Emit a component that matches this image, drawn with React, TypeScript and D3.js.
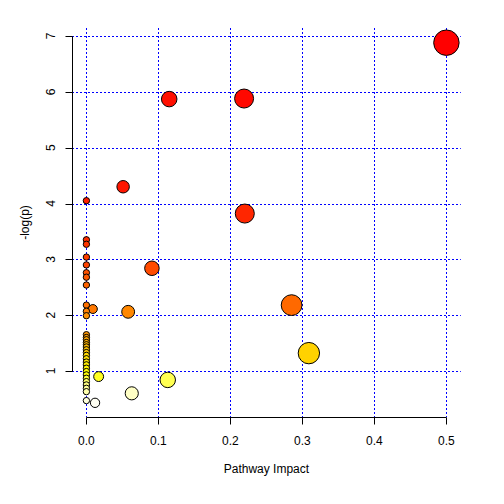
import React, { useEffect, useRef } from "react";
import * as d3 from "d3";

// Pathway impact (x) and -log(p) (y)
const impact = [
  0.5, 0.219, 0.115, 0.051, 0.22, 0.091, 0.285, 0.058, 0.009, 0.309, 0.113, 0.063, 0.017, 0.012,
  0, 0, 0, 0, 0, 0, 0, 0, 0, 0, 0,
  0, 0, 0, 0, 0, 0, 0, 0, 0, 0, 0, 0, 0, 0, 0, 0, 0, 0, 0, 0, 0,
];
const logP = [
  6.88, 5.88, 5.87, 4.3, 3.82, 2.84, 2.18, 2.06, 2.11, 1.32, 0.84, 0.6, 0.9, 0.43,
  4.05, 3.35, 3.27, 3.04, 2.9, 2.76, 2.68, 2.54, 2.18, 2.07, 1.99,
  1.65, 1.6, 1.56, 1.51, 1.47, 1.43, 1.38, 1.33, 1.28, 1.22, 1.16, 1.11, 1.05, 0.99, 0.93,
  0.87, 0.81, 0.75, 0.69, 0.63, 0.47,
];
const xTicks = [0, 0.1, 0.2, 0.3, 0.4, 0.5];
const yTicks = [1, 2, 3, 4, 5, 6, 7];

// R's heat.colors(n)
function heatColors(n: number): string[] {
  const j = Math.floor(n / 4);
  const i = n - j;
  const out: string[] = [];
  for (let k = 0; k < i; k++) {
    const h = i > 1 ? (k / (i - 1)) * (1 / 6) : 0;
    out.push(d3.rgb(255, Math.round(h * 6 * 255), 0).formatHex());
  }
  for (let k = 0; k < j; k++) {
    const from = 1 - 1 / (2 * j), to = 1 / (2 * j);
    const s = j > 1 ? from + ((to - from) * k) / (j - 1) : from;
    out.push(d3.rgb(255, 255, Math.round((1 - s) * 255)).formatHex());
  }
  return out;
}

const App = () => {
  const ref = useRef<SVGSVGElement>(null);

  useEffect(() => {
    const svg = d3.select(ref.current);
    svg.selectAll("*").remove();

    const left = 72, right = 460.8, top = 28, bottom = 417;
    const x = d3.scaleLinear().domain([-0.02, 0.52]).range([left, right]);
    const y = d3.scaleLinear().domain([1, 7]).range([371, 36]);
    const font = "Liberation Sans, Arial, sans-serif";
    const snap = (v: number) => Math.round(v) + 0.5;

    // grid
    const grid = svg.append("g");
    grid.selectAll("line.h").data(yTicks).join("line")
      .attr("class", "h")
      .attr("x1", left).attr("x2", right)
      .attr("y1", d => snap(y(d))).attr("y2", d => snap(y(d)))
      .attr("stroke", "#0000ff")
      .attr("stroke-width", 1)
      .attr("stroke-dasharray", "2 2");
    grid.selectAll("line.v").data(xTicks).join("line")
      .attr("class", "v")
      .attr("y1", top).attr("y2", bottom)
      .attr("x1", d => snap(x(d))).attr("x2", d => snap(x(d)))
      .attr("stroke", "#0000ff")
      .attr("stroke-width", 1)
      .attr("stroke-dasharray", "2 2");

    // points, sorted by -log(p) decreasing, coloured by rank
    const pts = impact.map((v, i) => ({ x: v, y: logP[i] }))
      .sort((a, b) => b.y - a.y);
    const cols = heatColors(pts.length);
    const sq = pts.map(d => Math.sqrt(d.x));
    const minX = d3.min(sq)!, maxX = d3.max(sq)!;
    const maxR = (maxX - minX) / 40, minR = (maxX - minX) / 160;
    const pxPerUnit = x(1) - x(0);

    svg.append("g").selectAll("circle").data(pts).join("circle")
      .attr("cx", d => x(d.x))
      .attr("cy", d => y(d.y))
      .attr("r", (d, i) => (minR + (maxR - minR) * (sq[i] - minX) / (maxX - minX)) * pxPerUnit)
      .attr("fill", (d, i) => cols[i])
      .attr("stroke", "#000")
      .attr("stroke-width", 1);

    // x axis
    const xa = svg.append("g");
    xa.append("line")
      .attr("x1", snap(x(0))).attr("x2", snap(x(0.5)))
      .attr("y1", snap(bottom)).attr("y2", snap(bottom))
      .attr("stroke", "#000");
    xa.selectAll("line.t").data(xTicks).join("line")
      .attr("class", "t")
      .attr("x1", d => snap(x(d))).attr("x2", d => snap(x(d)))
      .attr("y1", snap(bottom)).attr("y2", snap(bottom) + 7)
      .attr("stroke", "#000");
    xa.selectAll("text").data(xTicks).join("text")
      .attr("x", d => x(d)).attr("y", 445)
      .attr("text-anchor", "middle")
      .attr("font-family", font).attr("font-size", 12)
      .text(d => d3.format(".1f")(d));
    svg.append("text")
      .attr("x", (left + right) / 2).attr("y", 473)
      .attr("text-anchor", "middle")
      .attr("font-family", font).attr("font-size", 12)
      .text("Pathway Impact");

    // y axis
    const ya = svg.append("g");
    ya.append("line")
      .attr("x1", snap(left)).attr("x2", snap(left))
      .attr("y1", snap(y(1))).attr("y2", snap(y(7)))
      .attr("stroke", "#000");
    ya.selectAll("line.t").data(yTicks).join("line")
      .attr("class", "t")
      .attr("x1", snap(left) - 7).attr("x2", snap(left))
      .attr("y1", d => snap(y(d))).attr("y2", d => snap(y(d)))
      .attr("stroke", "#000");
    ya.selectAll("text").data(yTicks).join("text")
      .attr("transform", d => `translate(55,${y(d)}) rotate(-90)`)
      .attr("text-anchor", "middle")
      .attr("font-family", font).attr("font-size", 12)
      .text(d => String(d));
    svg.append("text")
      .attr("transform", `translate(29,${(top + bottom) / 2}) rotate(-90)`)
      .attr("text-anchor", "middle")
      .attr("font-family", font).attr("font-size", 12)
      .text("-log(p)");
  }, []);

  return (
    <svg
      ref={ref}
      width={504}
      height={504}
      style={{ position: "absolute", left: 0, top: 0, background: "#fff" }}
    />
  );
};

export default App;
